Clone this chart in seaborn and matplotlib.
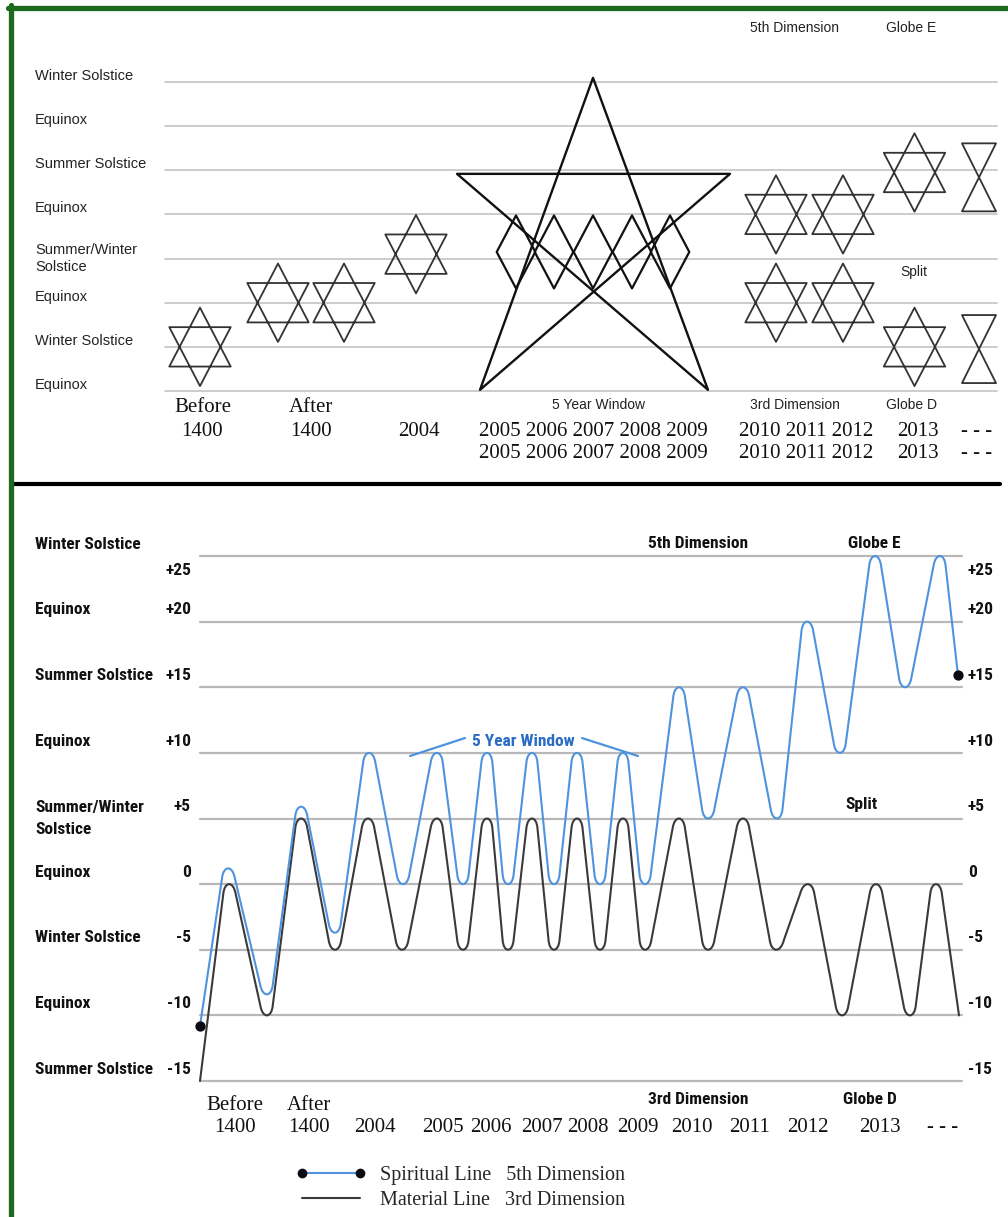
import numpy as np
import matplotlib
matplotlib.use("Agg")
import matplotlib.pyplot as plt
from matplotlib import font_manager
from matplotlib.path import Path
from matplotlib.patches import PathPatch
from matplotlib.lines import Line2D
from matplotlib.transforms import blended_transform_factory
import seaborn as sns

W, H = 1008, 1217
BLUE = "#4f93dd"
DARK = "#3a3a3a"
GREEN = "#1e6a1e"
SANS = ["Liberation Sans", "DejaVu Sans"]
SERIF = ["Liberation Serif", "DejaVu Serif"]

# condensed bold face for the lower chart if one is installed, else plain bold
installed = {f.name for f in font_manager.fontManager.ttflist}
narrow_name = next((n for n in ["Liberation Sans Narrow", "Roboto Condensed",
                                "Open Sans Condensed", "Arial Narrow"] if n in installed), None)
if narrow_name:
    NARROW, NSIZE = [narrow_name, "DejaVu Sans"], 12.5
else:
    NARROW, NSIZE = SANS, 11

# ---------------------------------------------------------------------------
# data (x in timeline units, top y in "level" units, bottom y in +/- values)
# ---------------------------------------------------------------------------
top_levels = ["Equinox", "Winter Solstice", "Equinox", "Summer/Winter\nSolstice",
              "Equinox", "Summer Solstice", "Equinox", "Winter Solstice"]

hex_x = [0.0, 7.8, 14.4, 21.6, 57.6, 64.3, 57.6, 64.3, 71.45, 71.45]
hex_y = [1.0, 2.0, 2.0, 3.1, 4.0, 4.0, 2.0, 2.0, 4.95, 1.0]
hourglass_x = [77.9, 77.9]
hourglass_y = [4.84, 0.95]
diamond_x = [31.6, 35.4, 39.3, 43.2, 47.0]
diamond_y = [3.15, 3.15, 3.15, 3.15, 3.15]
pentagram_x = [39.35]
pentagram_y = [3.56]

bot_values = [25, 20, 15, 10, 5, 0, -5, -10, -15]
bot_value_labels = ["+25", "+20", "+15", "+10", "+5", "0", "-5", "-10", "-15"]
bot_seasons = ["Winter Solstice", "Equinox", "Summer Solstice", "Equinox",
               "Summer/Winter\nSolstice", "Equinox", "Winter Solstice", "Equinox",
               "Summer Solstice"]

material_x = [0.0, 2.9, 6.7, 10.1, 13.5, 16.8, 20.2, 23.7, 26.3, 28.7, 30.8, 33.2,
              35.4, 37.7, 40.0, 42.3, 44.5, 47.9, 50.8, 54.3, 57.6, 60.8, 64.2,
              67.6, 71.0, 73.6, 75.9]
material_y = [-15, 0, -10, 5, -5, 5, -5, 5, -5, 5, -5, 5, -5, 5, -5, 5, -5, 5, -5,
              5, -5, 0, -10, 0, -10, 0, -10]

spiritual_x = [0.0, 2.8, 6.7, 10.1, 13.5, 16.9, 20.3, 23.7, 26.3, 28.7, 30.8, 33.2,
               35.4, 37.7, 40.0, 42.3, 44.5, 47.9, 50.8, 54.3, 57.7, 60.7, 64.0,
               67.5, 70.5, 74.0, 75.8]
spiritual_y = [-10.8, 1.2, -8.4, 5.9, -3.7, 10, 0, 10, 0, 10, 0, 10, 0, 10, 0, 10,
               0, 15, 5, 15, 5, 20, 10, 25, 15, 25, 15.9]

bot_years = ["1400", "1400", "2004", "2005", "2006", "2007", "2008", "2009",
             "2010", "2011", "2012", "2013", "- - -"]
bot_years_x = [3.5, 10.9, 17.5, 24.3, 29.1, 34.2, 38.8, 43.8, 49.2, 55.0, 60.8,
               68.0, 74.3]
bot_prefix = ["Before", "After"]

top_years_1 = ["1400", "1400", "2004", "2005 2006 2007 2008 2009", "2010 2011 2012",
               "2013", "- - -"]
top_years_2 = ["2005 2006 2007 2008 2009", "2010 2011 2012", "2013", "- - -"]


def px(x, y):
    return x / W, 1 - y / H


def ftext(x, y, s, **kw):
    kw.setdefault("ha", "center")
    kw.setdefault("va", "center")
    fig.text(*px(x, y), s, **kw)


def shape_marker(polys):
    verts, codes = [], []
    for poly in polys:
        verts += poly + [poly[0]]
        codes += [Path.MOVETO] + [Path.LINETO] * (len(poly) - 1) + [Path.CLOSEPOLY]
    return Path(verts, codes)


def rounded_curve(ax, xs, ys, color, lw, w=4.5, r=10.0):
    # straight flanks between the turning points, rounded flat-ish tops/bottoms
    pts = ax.transData.transform(np.column_stack([xs, ys]))
    left, right = pts.copy(), pts.copy()
    left[1:-1, 0] -= w
    right[1:-1, 0] += w
    verts, codes = [pts[0]], [Path.MOVETO]
    for i in range(1, len(pts) - 1):
        c1, c2 = left[i], right[i]
        d1 = right[i - 1] - c1
        d2 = left[i + 1] - c2
        q1 = c1 + d1 / np.hypot(*d1) * min(r, 0.45 * np.hypot(*d1))
        q2 = c2 + d2 / np.hypot(*d2) * min(r, 0.45 * np.hypot(*d2))
        lift = (c1[1] - (q1[1] + q2[1]) / 2) / 3.0
        verts += [q1, c1 + [0, lift], c2 + [0, lift], q2]
        codes += [Path.LINETO, Path.CURVE4, Path.CURVE4, Path.CURVE4]
    verts.append(pts[-1])
    codes.append(Path.LINETO)
    path = Path(ax.transData.inverted().transform(np.array(verts)), codes)
    ax.add_patch(PathPatch(path, fill=False, ec=color, lw=lw, clip_on=False,
                           joinstyle="round", capstyle="round", zorder=3))


sns.set_theme(style="white")
plt.rcParams["font.family"] = SANS

fig = plt.figure(figsize=(W / 100, H / 100), dpi=100)
fig.patch.set_facecolor("white")

# ---------------------------------------------------------------------------
# top panel
# ---------------------------------------------------------------------------
top_l, top_r, top_b, top_t = 165, 997, 391, 82
ax_top = fig.add_axes([top_l / W, 1 - top_b / H, (top_r - top_l) / W, (top_b - top_t) / H])
ax_top.set_xlim((top_l - 200) / 10, (top_r - 200) / 10)
ax_top.set_ylim(0, 7)
ax_top.axis("off")

trans = blended_transform_factory(fig.transFigure, ax_top.transData)
for lvl, name in enumerate(top_levels):
    ax_top.axhline(lvl, color="#c4c4c4", lw=1.2, zorder=1, clip_on=False)
    ypos = lvl if "\n" in name else lvl + 0.14
    ax_top.text(35 / W, ypos, name, transform=trans, ha="left", va="center",
                fontsize=10.5, color="#222222", family=SANS)

hexagram = shape_marker([[(0, 39.2), (-30.7, -19.7), (30.7, -19.7)],
                         [(0, -39.2), (-30.7, 19.7), (30.7, 19.7)]])
hourglass = shape_marker([[(-17, 34), (17, 34), (0, 0)],
                          [(0, 0), (-17, -34), (17, -34)]])
diamond = shape_marker([[(-19.3, 0), (0, 36.5), (19.3, 0), (0, -36.5)]])
pentagram = Path([(-0.5, 156), (-113.5, -156), (136.5, 60), (-136.5, 60),
                  (114.5, -156), (-0.5, 156)],
                 [Path.MOVETO] + [Path.LINETO] * 4 + [Path.CLOSEPOLY])


def pts_size(px_extent):
    return (px_extent * 0.72) ** 2


sns.scatterplot(x=hex_x, y=hex_y, ax=ax_top, marker=hexagram, s=pts_size(78.4),
                facecolor="none", edgecolor="#333333", linewidth=1.3, clip_on=False, zorder=3)
sns.scatterplot(x=hourglass_x, y=hourglass_y, ax=ax_top, marker=hourglass, s=pts_size(68),
                facecolor="none", edgecolor="#333333", linewidth=1.3, clip_on=False, zorder=3)
sns.scatterplot(x=diamond_x, y=diamond_y, ax=ax_top, marker=diamond, s=pts_size(73),
                facecolor="none", edgecolor="#111111", linewidth=1.6, clip_on=False, zorder=3)
sns.scatterplot(x=pentagram_x, y=pentagram_y, ax=ax_top, marker=pentagram, s=pts_size(312),
                facecolor="none", edgecolor="#111111", linewidth=1.7, clip_on=False, zorder=3)
ax_top.set_xlim((top_l - 200) / 10, (top_r - 200) / 10)
ax_top.set_ylim(0, 7)

ftext(795, 28, "5th Dimension", fontsize=10, color="#222222")
ftext(911, 28, "Globe E", fontsize=10, color="#222222")
ftext(914, 272, "Split", fontsize=10, color="#222222")
ftext(599, 405, "5 Year Window", fontsize=10, color="#222222")
ftext(795, 405, "3rd Dimension", fontsize=10, color="#222222")
ftext(912, 405, "Globe D", fontsize=10, color="#222222")

ftext(203, 407, "Before", fontsize=15, family=SERIF, color="#111111")
ftext(311, 408, "After", fontsize=15, family=SERIF, color="#111111")
for s, x in zip(top_years_1, [202, 311, 419, 593, 806, 918, 977]):
    ftext(x, 431, s, fontsize=15, family=SERIF, color="#111111")
for s, x in zip(top_years_2, [593, 806, 918, 977]):
    ftext(x, 454, s, fontsize=15, family=SERIF, color="#111111")

# separator
fig.add_artist(Line2D([12 / W, 1000 / W], [1 - 484 / H] * 2, color="black", lw=3.0))

# ---------------------------------------------------------------------------
# bottom panel
# ---------------------------------------------------------------------------
bot_l, bot_r, bot_b, bot_t = 200, 962, 1081, 556
ax_bot = fig.add_axes([bot_l / W, 1 - bot_b / H, (bot_r - bot_l) / W, (bot_b - bot_t) / H])
ax_bot.set_xlim(0, (bot_r - bot_l) / 10)
ax_bot.set_ylim(-15, 25)
ax_bot.axis("off")

for v in bot_values:
    ax_bot.axhline(v, color="#b8b8b8", lw=1.6, zorder=1, clip_on=False)

bold = dict(fontsize=NSIZE, fontweight="bold", family=NARROW, color="#111111")
trans_b = blended_transform_factory(fig.transFigure, ax_bot.transData)
label_y = [v - 1.1 if v == 25 else v + 0.9 for v in bot_values]
season_y = [25.85] + label_y[1:4] + [5.0] + label_y[5:]
for name, y in zip(bot_seasons, season_y):
    ax_bot.text(35 / W, y, name, transform=trans_b, ha="left", va="center",
                linespacing=1.55, **bold)
for lab, y in zip(bot_value_labels, label_y):
    ax_bot.text(191 / W, y, lab, transform=trans_b, ha="right", va="center", **bold)
    ax_bot.text(968 / W, y, lab, transform=trans_b, ha="left", va="center", **bold)

rounded_curve(ax_bot, material_x, material_y, DARK, 1.5)
rounded_curve(ax_bot, spiritual_x, spiritual_y, BLUE, 1.5)
sns.scatterplot(x=[spiritual_x[0], spiritual_x[-1]], y=[spiritual_y[0], spiritual_y[-1]],
                ax=ax_bot, s=55, color="#0b0b14", edgecolor="#0b0b14", linewidth=0,
                clip_on=False, zorder=4)
ax_bot.set_xlim(0, (bot_r - bot_l) / 10)
ax_bot.set_ylim(-15, 25)

# 5 year window bracket
ax_bot.plot([21.0, 26.5], [9.76, 11.13], color=BLUE, lw=1.6, clip_on=False)
ax_bot.plot([38.2, 43.8], [11.13, 9.76], color=BLUE, lw=1.6, clip_on=False)
ax_bot.text(32.3, 10.83, "5 Year Window", ha="center", va="center",
            **{**bold, "color": "#2a6cc4"})

ftext(698, 543, "5th Dimension", **bold)
ftext(874, 543, "Globe E", **bold)
ftext(861, 805, "Split", **bold)
ftext(698, 1100, "3rd Dimension", **bold)
ftext(870, 1100, "Globe D", **bold)

for s, x in zip(bot_prefix, bot_years_x[:2]):
    ax_bot.text(x, -16.83, s, ha="center", va="center", fontsize=15, family=SERIF,
                color="#111111", clip_on=False)
for s, x in zip(bot_years, bot_years_x):
    ax_bot.text(x, -18.58, s, ha="center", va="center", fontsize=15, family=SERIF,
                color="#111111", clip_on=False)

# legend
handles = [Line2D([], [], color=BLUE, lw=1.5, marker="o", ms=6, mfc="#0b0b14", mec="#0b0b14"),
           Line2D([], [], color=DARK, lw=1.5)]
labels = ["Spiritual Line   5th Dimension", "Material Line   3rd Dimension"]
fig.legend(handles, labels, loc="upper left", bbox_to_anchor=px(296, 1166), frameon=False,
           numpoints=2, handlelength=3.5, handletextpad=0.65, labelspacing=0.3,
           borderpad=0, borderaxespad=0, prop={"family": SERIF, "size": 14.5})

# green frame
fig.add_artist(Line2D([10.5 / W, 10.5 / W], [0, 1 - 5 / H], color=GREEN, lw=3.8))
fig.add_artist(Line2D([8 / W, 1], [1 - 7.5 / H] * 2, color=GREEN, lw=3.8))

fig.savefig("out.png", dpi=100)
